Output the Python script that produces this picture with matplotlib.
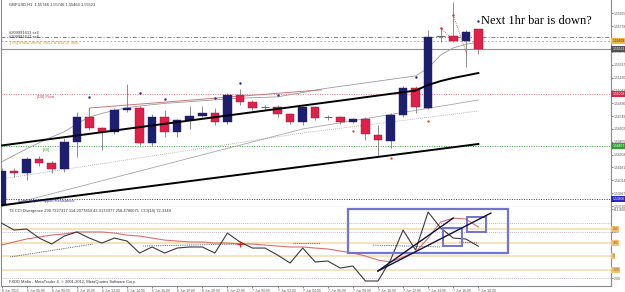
import matplotlib
matplotlib.use("Agg")
import matplotlib.pyplot as plt
from matplotlib.patches import Rectangle
import numpy as np

plt.rcParams["font.family"] = ["Liberation Sans", "DejaVu Sans"]

# ---------------- data (GBPUSD H1, 6 Jun 04:00 .. 7 Jun 18:00) ----------------
days = ["6 Jun"] * 20 + ["7 Jun"] * 19
hours = list(range(4, 24)) + list(range(0, 19))

opens = [1.5373, 1.5412, 1.5410, 1.5426, 1.5421, 1.5414, 1.5445, 1.5474, 1.5461, 1.5457,
         1.5482, 1.5484, 1.5444, 1.5474, 1.5457, 1.5470, 1.5475, 1.5478, 1.5468, 1.5499,
         1.5491, 1.5485, 1.5485, 1.5477, 1.5468, 1.5485, 1.5474, 1.5474, 1.5468, 1.5472,
         1.5453, 1.5446, 1.5476, 1.5507, 1.5484, 1.5567, 1.5567, 1.5561, 1.55746]
highs = [1.5415, 1.5415, 1.5428, 1.5429, 1.5423, 1.5450, 1.5480, 1.5484, 1.5463, 1.5484,
         1.5512, 1.5486, 1.5477, 1.5482, 1.5472, 1.5486, 1.5486, 1.5484, 1.5501, 1.5506,
         1.5493, 1.5488, 1.5488, 1.5479, 1.5487, 1.5487, 1.5476, 1.5475, 1.5473, 1.5474,
         1.5465, 1.5478, 1.5509, 1.5509, 1.5573, 1.5577, 1.5606, 1.5573, 1.55746]
lows = [1.5368, 1.5405, 1.5402, 1.5418, 1.5410, 1.5411, 1.5428, 1.5459, 1.5436, 1.5455,
        1.5480, 1.5442, 1.5441, 1.5451, 1.5451, 1.5460, 1.5474, 1.5465, 1.5466, 1.5488,
        1.5482, 1.5482, 1.5474, 1.5466, 1.5465, 1.5471, 1.5471, 1.5466, 1.5467, 1.5448,
        1.5428, 1.5438, 1.5474, 1.5478, 1.5483, 1.5560, 1.5560, 1.5531, 1.55463]
closes = [1.5412, 1.5410, 1.5426, 1.5421, 1.5414, 1.5445, 1.5474, 1.5461, 1.5457, 1.5482,
          1.5484, 1.5444, 1.5474, 1.5457, 1.5470, 1.5475, 1.5478, 1.5468, 1.5499, 1.5491,
          1.5484, 1.5485, 1.5477, 1.5468, 1.5485, 1.5473, 1.5474, 1.5468, 1.5472, 1.5454,
          1.5448, 1.5476, 1.5507, 1.5485, 1.5566, 1.5567, 1.5561, 1.5571, 1.55523]

# thick black moving average
ma_black = [1.54413, 1.54432, 1.54451, 1.54470, 1.54489, 1.54508, 1.54527, 1.54546, 1.54565, 1.54584,
            1.54604, 1.54623, 1.54642, 1.54661, 1.54680, 1.54699, 1.54718, 1.54737, 1.54756, 1.54775,
            1.54794, 1.54813, 1.54832, 1.54851, 1.54870, 1.54889, 1.54908, 1.54927, 1.54946, 1.54966,
            1.54985, 1.55004, 1.55023, 1.55042, 1.55106, 1.55151, 1.55186, 1.55214, 1.55243]
# thin grey upper band
band_up = [1.54224, 1.54300, 1.54375, 1.54445, 1.54510, 1.54570, 1.54660, 1.54739, 1.54780, 1.54815,
           1.54845, 1.54865, 1.54880, 1.54895, 1.54905, 1.54915, 1.54925, 1.54935, 1.54945, 1.54955,
           1.54960, 1.54965, 1.54970, 1.54995, 1.55020, 1.55048, 1.55070, 1.55090, 1.55110, 1.55130,
           1.55150, 1.55170, 1.55190, 1.55209, 1.55300, 1.55450, 1.55530, 1.55570, 1.55598]
# thin grey lower line
band_mid = [1.53712, 1.53749, 1.53786, 1.53823, 1.53860, 1.53898, 1.53935, 1.53972, 1.54009, 1.54046,
            1.54083, 1.54120, 1.54157, 1.54194, 1.54231, 1.54269, 1.54306, 1.54343, 1.54380, 1.54417,
            1.54454, 1.54491, 1.54528, 1.54565, 1.54602, 1.54626, 1.54649, 1.54673, 1.54697, 1.54721,
            1.54744, 1.54768, 1.54792, 1.54815, 1.54839, 1.54863, 1.54886, 1.54910, 1.54934]
# grey dotted line
band_dot = [1.54030, 1.54052, 1.54074, 1.54096, 1.54118, 1.54140, 1.54161, 1.54183, 1.54205, 1.54227,
            1.54249, 1.54271, 1.54293, 1.54315, 1.54337, 1.54359, 1.54380, 1.54402, 1.54424, 1.54446,
            1.54468, 1.54490, 1.54512, 1.54534, 1.54556, 1.54574, 1.54592, 1.54610, 1.54628, 1.54646,
            1.54664, 1.54682, 1.54700, 1.54718, 1.54736, 1.54754, 1.54772, 1.54790, 1.54808]
# pink resistance line (bar, price)
pink_x = [7, 7, 25.5]
pink_y = [1.54739, 1.54842, 1.55050]
# lower black trend line
trend_x = [0, 38]
trend_y = [1.53728, 1.54430]

# fractals
frac_up_x = [7, 11, 13, 17, 19, 22, 33, 38]
frac_up_y = [1.54968, 1.55014, 1.54945, 1.54957, 1.55129, 1.54991, 1.55197, 1.55838]
frac_dn_x = [28, 31, 34]
frac_dn_y = [1.54579, 1.54270, 1.54693]
# closed sell orders (open -> close)
trade_x = [[35, 35.7], [36, 37.1]]
trade_y = [[1.55758, 1.55660], [1.55907, 1.55450]]

# horizontal levels
bid = 1.55523
order_green = 1.55650
order_orange = 1.55609
pivot = 1.55008
s0 = 1.54407
low_sr = 1.53806

# right-axis price labels (the one hidden under the orange tag is left out)
price_ticks = [1.53720, 1.53867, 1.54014, 1.54161, 1.54308, 1.54455, 1.54602, 1.54749,
               1.54896, 1.55043, 1.55190, 1.55337, 1.55484, 1.55778, 1.55925]

# CCI sub-window
cci = [244, 192, 200, 133, 89, 148, 178, 133, 96, 133, 111, 22, 67, 22, 59, 67, 67, 22, 170, 104,
       59, 59, 7, -52, 59, -44, -37, -89, -74, -185, -185, -30, 192, 44, 326, 207, 133, 126, 72.33]
cci_sig = [81, 104, 126, 141, 155, 163, 178, 178, 178, 170, 155, 148, 133, 118, 111, 104, 104, 96, 96, 89,
           89, 81, 74, 67, 67, 59, 52, 37, 22, 0, -30, -44, -7, 30, 133, 252, 281, 274, 215]
div_segs = [([0.7, 7.3], [-7, 89]), ([11.3, 19], [74, 89]), ([23.2, 25.4], [96, 96]),
            ([29.6, 35], [81, 67]), ([36.5, 38], [104, 96])]
cci_levels = [200, 100, 0, -100]
cci_dotted = [244, 178, -163]
box_big = (27.6, 22, 12.76, 328)
box_small = [(35.18, 74, 1.52, 133), (37.1, 178, 1.5, 111)]
cci_trend = [([30.0, 36.0], [-111, 281]), ([30.0, 39.0], [-111, 318])]

# ---------------- figure ----------------
W, H = 625, 292
fig = plt.figure(figsize=(W / 100, H / 100), dpi=100)
fig.patch.set_facecolor("white")


def px_axes(x0, y0, x1, y1):
    return fig.add_axes([x0 / W, 1 - y1 / H, (x1 - x0) / W, (y1 - y0) / H])


ax = px_axes(1, 0, 611, 207)
axc = px_axes(1, 207, 611, 286)
XLIM = (-0.04, 48.57)
SMALL = 2.9
TICK = 2.4
GREY_TXT = "#555555"

for a in (ax, axc):
    a.set_xlim(*XLIM)
    for s in a.spines.values():
        s.set_color("#8a8a8a")
        s.set_linewidth(0.8)
    a.spines["top"].set_visible(False)
    a.yaxis.tick_right()
    a.tick_params(axis="y", labelsize=TICK, colors=GREY_TXT, length=1.5, width=0.5, pad=0.8)

ax.set_ylim(1.537087, 1.560789)
ax.set_xticks([])
ax.set_yticks(price_ticks)
ax.set_yticklabels([f"{p:.5f}" for p in price_ticks])

# horizontal levels
ax.axhline(order_green, color="#6a9a3a", lw=0.7, ls=(0, (4, 2, 1, 2)), zorder=2)
ax.axhline(order_orange, color="#d8b040", lw=0.7, ls=(0, (2, 2)), zorder=2)
ax.axhline(bid, color="#909090", lw=0.8, zorder=2)
ax.axhline(pivot, color="#e07a8a", lw=0.7, ls=(0, (1, 1.5)), zorder=2)
ax.axhline(s0, color="#3a9a3a", lw=0.7, ls=(0, (1, 1.5)), zorder=2)
ax.axhline(low_sr, color="#3030b0", lw=0.7, ls=(0, (1, 1.5)), zorder=2)

# overlay lines
ax.plot(range(len(band_up)), band_up, color="#9a9a9a", lw=0.6, zorder=2)
ax.plot(range(len(band_mid)), band_mid, color="#a8a8a8", lw=0.6, zorder=2)
ax.plot(range(len(band_dot)), band_dot, color="#a0a0a0", lw=0.6, ls=(0, (1, 1.5)), zorder=2)
ax.plot(pink_x, pink_y, color="#c87878", lw=0.7, zorder=2)
ax.plot(range(len(ma_black)), ma_black, color="black", lw=1.4, zorder=5)
ax.plot(trend_x, trend_y, color="black", lw=1.4, zorder=5)

# candles
x = np.arange(len(opens))
o = np.array(opens); c = np.array(closes)
lo = np.minimum(o, c); hgt = np.abs(c - o)
up = c > o
dn = c < o
doji = hgt < 0.00003
ax.vlines(x, lows, highs, color="#8c8c8c", lw=0.7, zorder=3)
ax.bar(x[up & ~doji], hgt[up & ~doji], bottom=lo[up & ~doji], width=0.68,
       color="#1e1e6e", edgecolor="#1e1e6e", lw=0.3, zorder=4)
ax.bar(x[dn & ~doji], hgt[dn & ~doji], bottom=lo[dn & ~doji], width=0.68,
       color="#e0204a", edgecolor="#9a1030", lw=0.3, zorder=4)
ax.hlines(c[doji], x[doji] - 0.34, x[doji] + 0.34, color="#6a6a6a", lw=0.8, zorder=4)

# fractals and trades
ax.scatter(frac_up_x, frac_up_y, s=3, color="#1e2a8a", zorder=6, lw=0)
ax.scatter(frac_dn_x, frac_dn_y, s=3, color="#e05020", zorder=6, lw=0)
for tx, ty in zip(trade_x, trade_y):
    ax.plot(tx, ty, color="#d03030", lw=0.6, ls=(0, (1, 1.5)), zorder=6)
    ax.scatter(tx[:1], ty[:1], s=3, color="#d03030", zorder=6, lw=0)

# texts in main window
ax.text(0.6, 1.56030, "GBPUSD,H1  1.55746 1.55746 1.55463 1.55523", fontsize=SMALL, color="#333333", va="center")
ax.text(0.6, 1.55700, "#209991613 sell", fontsize=SMALL, color="#333333", va="center")
ax.text(0.6, 1.55650, "#209991627 sell", fontsize=SMALL, color="#333333", va="center", zorder=7)
ax.text(0.7, 1.55585, "[7/6] If downtrend, SELL & Exit @ 48th", fontsize=SMALL, color="#d0a030", va="center")
ax.text(2.8, 1.54965, "[D0] Pivot", fontsize=SMALL, color="#d04050", va="center")
ax.text(3.3, 1.54362, "[S0]", fontsize=SMALL, color="#30a030", va="center")
ax.text(1.3, 1.53775, "[Low] Major Support/Resistance", fontsize=SMALL, color="#3030b0", va="center", zorder=7)
ax.text(38.2, 1.55804, "Next 1hr bar is down?", fontsize=8.9, family="Liberation Serif",
        color="black", va="baseline", ha="left", zorder=7)


def price_tag(axis, y, text, fc, tc="white"):
    axis.annotate(text, xy=(1, y), xycoords=("axes fraction", "data"), xytext=(1.0, 0),
                  textcoords="offset points", fontsize=TICK, color=tc, va="center", ha="left",
                  bbox=dict(boxstyle="square,pad=0.3", fc=fc, ec="none"), annotation_clip=False, zorder=8)


price_tag(ax, order_orange, f"{order_orange:.5f}", "#f0b840", "#333333")
price_tag(ax, bid, f"{bid:.5f}", "#505050")
price_tag(ax, pivot, f"{pivot:.5f}", "#d82848")
price_tag(ax, s0, f"{s0:.5f}", "#30a030")
price_tag(ax, low_sr, f"{low_sr:.5f}", "#2828c8")

# ---------------- CCI window ----------------
axc.set_ylim(-222, 363)
for lv in cci_levels:
    axc.axhline(lv, color="#f5deb0", lw=1.2, zorder=1)
for lv in cci_dotted:
    axc.axhline(lv, color="#b0a0b0", lw=0.6, ls=(0, (1, 1.5)), zorder=1)
axc.set_yticks([-163, 178, 345])
axc.set_yticklabels(["-200", "200", "611.800"])
for lv in cci_levels:
    price_tag(axc, lv, f"{lv}", "#f5c070", "#806020")

xc = np.arange(len(cci))
axc.plot(xc, cci_sig, color="#d87070", lw=0.8, zorder=3)
axc.plot(xc, cci, color="#3a3a3a", lw=0.8, zorder=4)
for sx, sy in div_segs:
    axc.plot(sx, sy, color="#404040", lw=0.6, ls=(0, (1, 1.2)), zorder=3)
axc.plot([19], [89], marker="+", ms=4, color="#e02020", mew=0.8, zorder=5)

axc.add_patch(Rectangle(box_big[:2], box_big[2], box_big[3], fill=False, ec="#7373d0", lw=1.6, zorder=5))
for bx in box_small:
    axc.add_patch(Rectangle(bx[:2], bx[2], bx[3], fill=False, ec="#7373d0", lw=1.4, zorder=5))
for tx, ty in cci_trend:
    axc.plot(tx, ty, color="#101040", lw=1.0, zorder=6)

axc.text(0.6, 335, "T3 CCI Divergence 290.7327317 114.2077859 43.3173377 258.4780075  CCI(14) 72.3349",
         fontsize=SMALL, color="#333333", va="center")
axc.text(0.6, -195, "FXDD Malta - MetaTrader 4, \u00a9 2001-2012, MetaQuotes Software Corp.",
         fontsize=SMALL, color="#333333", va="center")

# time axis
tick_pos = list(range(0, len(hours), 2))
tick_lab = ["6 Jun 2012" if i == 0 else f"{days[i]} {hours[i]:02d}:00" for i in tick_pos]
axc.set_xticks(tick_pos)
axc.set_xticklabels(tick_lab, ha="left")
axc.tick_params(axis="x", labelsize=TICK, colors=GREY_TXT, length=1.5, width=0.5, pad=0.5)

fig.savefig("out.png", dpi=100)
